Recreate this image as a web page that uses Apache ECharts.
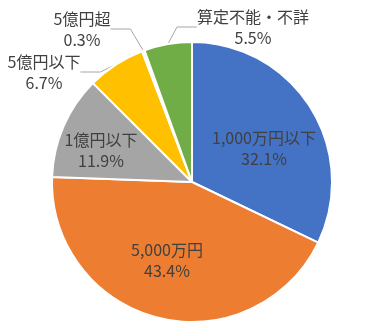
<!DOCTYPE html>
<html>
<head>
<meta charset="utf-8">
<script src="https://cdn.jsdelivr.net/npm/echarts@6/dist/echarts.min.js"></script>
<style>html,body{margin:0;padding:0;background:#fff}#c{width:380px;height:336px}</style>
</head>
<body>
<div id="c"></div>
<script>
var categories = ['1,000万円以下', '5,000万円', '1億円以下', '5億円以下', '5億円超', '算定不能・不詳'];
var values = [32.1, 43.4, 11.9, 6.7, 0.3, 5.5];
var colors = ['#4472C4', '#ED7D31', '#A5A5A5', '#FFC000', '#EEF2F8', '#70AD47'];
// label anchor positions (style only)
var labelPos = [[264, 148], [167, 260], [101, 150], [44, 72], [82, 29], [253, 27]];
var outside = [false, false, false, true, true, true];

var chart = echarts.init(document.getElementById('c'), null, {renderer: 'canvas'});
var data = categories.map(function (c, i) {
  return {
    name: c,
    value: values[i],
    itemStyle: {color: colors[i]},
    label: {position: outside[i] ? 'outside' : 'inside'},
    labelLine: {show: outside[i]}
  };
});
chart.setOption({
  animation: false,
  series: [{
    type: 'pie',
    center: [192, 182],
    radius: [0, 140],
    startAngle: 90,
    clockwise: true,
    itemStyle: {borderColor: '#fff', borderWidth: 2},
    label: {
      show: true,
      formatter: function (p) { return p.name + '\n' + p.value.toFixed(1) + '%'; },
      color: '#404040',
      fontSize: 16,
      lineHeight: 21,
      overflow: 'none',
      fontFamily: '"Noto Sans CJK JP", sans-serif',
      align: 'center'
    },
    labelLine: {
      show: true,
      length: 8,
      length2: 20,
      smooth: false,
      lineStyle: {color: '#A6A6A6', width: 1}
    },
    labelLayout: function (p) {
      var pos = labelPos[p.dataIndex];
      return {x: pos[0], y: pos[1], align: 'center', verticalAlign: 'middle'};
    },
    data: data
  }]
});
</script>
</body>
</html>
